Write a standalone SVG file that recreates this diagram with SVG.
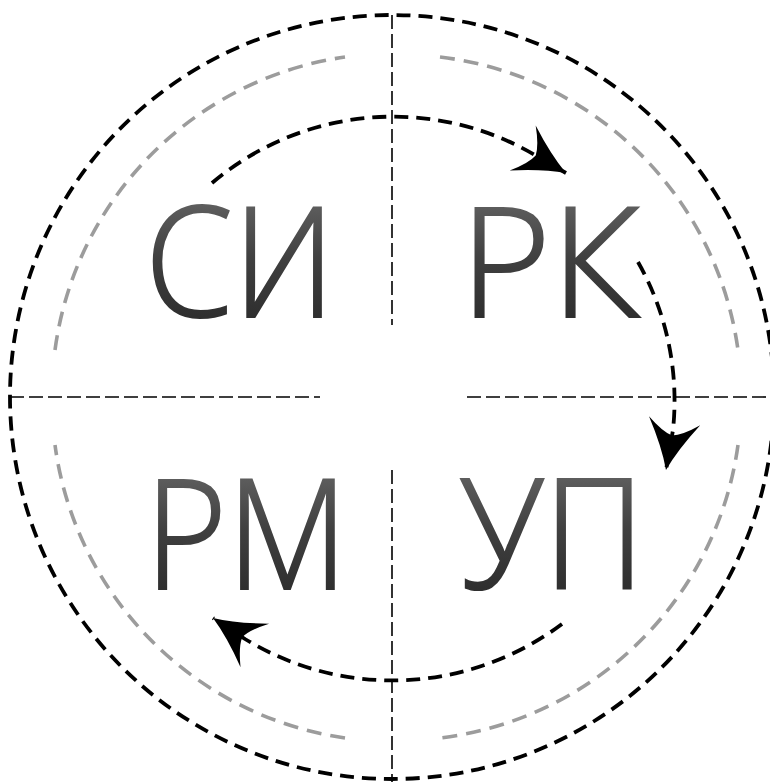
<svg xmlns="http://www.w3.org/2000/svg" width="770" height="782" viewBox="0 0 770 782">
<defs>
<linearGradient id="tg" x1="0" y1="0" x2="0" y2="1">
<stop offset="0" stop-color="#7a7a7a"/>
<stop offset="0.5" stop-color="#404040"/>
<stop offset="1" stop-color="#222"/>
</linearGradient>
<marker id="ah" markerUnits="userSpaceOnUse" viewBox="-52 -28 54 56" markerWidth="54" markerHeight="56" refX="0" refY="0" orient="auto" overflow="visible">
<path d="M0,0 Q-22,-8 -50,-26 Q-37,-10 -35,0 Q-37,10 -50,26 Q-22,8 0,0 Z" fill="#000"/>
</marker>
<style>
.outer{fill:none;stroke:#000;stroke-width:3.8;stroke-dasharray:14 8}
.axis{fill:none;stroke:#000;stroke-width:1.6;stroke-dasharray:14 5}
.gray{fill:none;stroke:#9c9c9c;stroke-width:3.6;stroke-dasharray:15 9}
.flow{fill:none;stroke:#000;stroke-width:3.8;stroke-dasharray:14 8}
.lbl{font-family:"Open Sans","Noto Sans",sans-serif;font-weight:300;font-size:153px;fill:url(#tg);stroke:url(#tg);stroke-width:2.2}
</style>
</defs>
<rect width="770" height="782" fill="#fff"/>
<g id="frame">
<circle class="outer" cx="392" cy="397" r="382"/>
<line class="axis" x1="392" y1="15" x2="392" y2="325"/>
<line class="axis" x1="392" y1="470" x2="392" y2="782"/>
<line class="axis" x1="10" y1="397" x2="320" y2="397"/>
<line class="axis" x1="467" y1="397" x2="770" y2="397"/>
<path class="gray" d="M55,350 A342,342 0 0 1 345,57"/>
<path class="gray" d="M440,57 A342,342 0 0 1 738,350"/>
<path class="gray" d="M738,445 A342,342 0 0 1 440,738"/>
<path class="gray" d="M345,738 A342,342 0 0 1 55,445"/>
</g>
<g id="node-si"><text class="lbl" x="145" y="317" textLength="190" lengthAdjust="spacingAndGlyphs">СИ</text></g>
<g id="node-rk"><text class="lbl" x="460" y="317" textLength="180" lengthAdjust="spacingAndGlyphs">РК</text></g>
<g id="node-rm"><text class="lbl" x="145" y="589" textLength="203" lengthAdjust="spacingAndGlyphs">РМ</text></g>
<g id="node-up"><text class="lbl" x="460" y="589" textLength="185" lengthAdjust="spacingAndGlyphs">УП</text></g>
<g id="connectors">
<path class="flow" d="M212,183 A281,281 0 0 1 540,158 L566,173" marker-end="url(#ah)"/>
<path class="flow" d="M638,262 A281,281 0 0 1 673,430 L666,470" marker-end="url(#ah)"/>
<path class="flow" d="M562,624 A283,283 0 0 1 245,639 L213,618" marker-end="url(#ah)"/>
</g>
</svg>
